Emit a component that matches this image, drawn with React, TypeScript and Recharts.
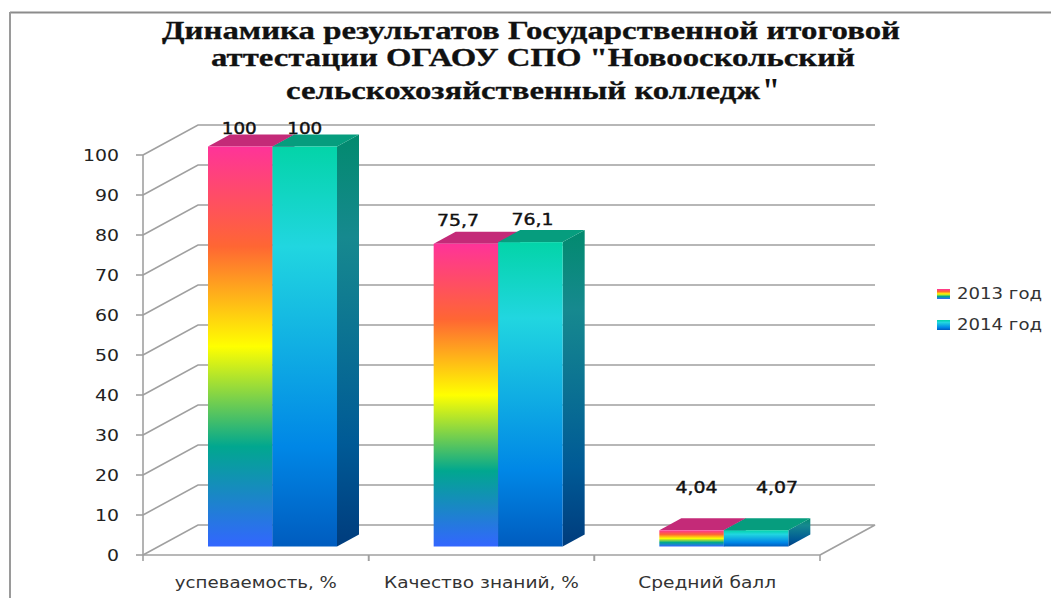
import React from "react";
import { BarChart, Bar, XAxis, YAxis, CartesianGrid, Legend, LabelList } from "recharts";

const categories = ["успеваемость, %", "Качество знаний, %", "Средний балл"];
const values2013 = [100, 75.7, 4.04];
const values2014 = [100, 76.1, 4.07];
const yTicks = [0, 10, 20, 30, 40, 50, 60, 70, 80, 90, 100];
const seriesNames = ["2013 год", "2014 год"];
const titleLines = [
  "Динамика результатов Государственной итоговой",
  "аттестации ОГАОУ СПО \"Новооскольский",
  "сельскохозяйственный колледж",
];

const chartData = categories.map((name, i) => ({ name, y2013: values2013[i], y2014: values2014[i] }));

const GRID = "#a0a0a0";
const WALL_DX = 55;
const WALL_DY = -30;
const BAR_DX = 17;
const BAR_DY = -8.5;
const DEPTH_DX = 22;
const DEPTH_DY = -12;
const SANS = "'DejaVu Sans', sans-serif";

const nudge2013 = [[-1, -18], [-8, -23], [5, -43]];
const nudge2014 = [[0, -18], [2, -23], [21, -43]];

const gridLine = (props: any) => {
  const { x1, x2, y1, index } = props;
  const isFloor = Math.abs(y1 - 555) < 1;
  const bx1 = x1 + WALL_DX;
  const bx2 = x2 + WALL_DX;
  const by = y1 + WALL_DY;
  return (
    <g key={`wall-${index}`}>
      <polyline
        points={`${x1},${y1} ${bx1},${by} ${bx2},${by}${isFloor ? ` ${x2},${y1}` : ""}`}
        fill="none"
        stroke={GRID}
        strokeWidth={1.6}
      />
    </g>
  );
};

const YTick = ({ x, y, payload }: any) => {
  const s = String(payload.value);
  return (
    <text x={x - 15 - s.length * 12} y={y + 6} textLength={s.length * 12} lengthAdjust="spacingAndGlyphs"
      fontFamily={SANS} fontSize={15} fill="#222">
      {s}
    </text>
  );
};

const labelWidths = [162, 195, 138];

const XTick = ({ x, payload, width, visibleTicksCount, index }: any) => {
  const band = width / visibleTicksCount;
  const w = labelWidths[index];
  const top = 555;
  return (
    <g>
      <line x1={x - band / 2} x2={x - band / 2} y1={top} y2={top + 6} stroke={GRID} strokeWidth={1.6} />
      <line x1={x + band / 2} x2={x + band / 2} y1={top} y2={top + 6} stroke={GRID} strokeWidth={1.6} />
      <text x={x - w / 2} y={588} textLength={w} lengthAdjust="spacingAndGlyphs"
        fontFamily={SANS} fontSize={15} fill="#333">
        {payload.value}
      </text>
    </g>
  );
};

const Bar3D = (topFill: string, frontId: string, sideId: string) => (props: any) => {
  const { x, y, width, height } = props;
  const fx = x + BAR_DX;
  const fy = y + BAR_DY;
  return (
    <g>
      <polygon
        points={`${fx + width},${fy} ${fx + width + DEPTH_DX},${fy + DEPTH_DY} ${fx + width + DEPTH_DX},${fy + height + DEPTH_DY} ${fx + width},${fy + height}`}
        fill={`url(#${sideId})`}
      />
      <polygon
        points={`${fx},${fy} ${fx + width},${fy} ${fx + width + DEPTH_DX},${fy + DEPTH_DY} ${fx + DEPTH_DX},${fy + DEPTH_DY}`}
        fill={topFill}
      />
      <rect x={fx} y={fy} width={width} height={height} fill={`url(#${frontId})`} />
    </g>
  );
};

const dataLabel = (nudges: number[][]) => (props: any) => {
  const { x, y, width, value, index } = props;
  const s = String(value).replace(".", ",");
  const w = s.length === 3 ? 35 : 42;
  const cx = x + BAR_DX + width / 2 + nudges[index][0];
  const cy = y + BAR_DY + nudges[index][1];
  return (
    <text x={cx - w / 2} y={cy + 5.5} textLength={w} lengthAdjust="spacingAndGlyphs"
      fontFamily={SANS} fontSize={15} fill="#111" stroke="#111" strokeWidth={0.4}>
      {s}
    </text>
  );
};

const LegendBox = () => (
  <svg width={116} height={50} style={{ display: "block" }}>
    {seriesNames.map((n, i) => (
      <g key={n}>
        <rect x={2} y={i === 0 ? 4 : 35} width={13} height={10} fill={`url(#${i === 0 ? "front2013" : "front2014"})`} />
        <text x={22} y={i === 0 ? 14 : 45} textLength={85} lengthAdjust="spacingAndGlyphs"
          fontFamily={SANS} fontSize={15} fill="#333">
          {n}
        </text>
      </g>
    ))}
  </svg>
);

export default function App() {
  return (
    <div style={{ position: "absolute", left: 0, top: 0, width: 1051, height: 598, overflow: "hidden", background: "#fff" }}>
      <BarChart
        width={1051}
        height={598}
        data={chartData}
        margin={{ top: 155, right: 231, bottom: 0, left: 0 }}
        barSize={64.5}
        barGap={0}
      >
        <defs>
          <linearGradient id="front2013" x1="0" y1="0" x2="0" y2="1">
            <stop offset="0%" stopColor="#ff3399" />
            <stop offset="25%" stopColor="#ff6633" />
            <stop offset="50%" stopColor="#ffff00" />
            <stop offset="75%" stopColor="#01a78f" />
            <stop offset="100%" stopColor="#3366ff" />
          </linearGradient>
          <linearGradient id="front2014" x1="0" y1="0" x2="0" y2="1">
            <stop offset="0%" stopColor="#03d4a8" />
            <stop offset="25%" stopColor="#21d6e0" />
            <stop offset="75%" stopColor="#0087e6" />
            <stop offset="100%" stopColor="#005cbf" />
          </linearGradient>
          <linearGradient id="side2013" x1="0" y1="0" x2="0" y2="1">
            <stop offset="0%" stopColor="#b8246f" />
            <stop offset="100%" stopColor="#2448b0" />
          </linearGradient>
          <linearGradient id="side2014" x1="0" y1="0" x2="0" y2="1">
            <stop offset="0%" stopColor="#028a6e" />
            <stop offset="25%" stopColor="#16898f" />
            <stop offset="75%" stopColor="#005a96" />
            <stop offset="100%" stopColor="#003c7d" />
          </linearGradient>
        </defs>

        <line x1={10} x2={1051} y1={12.5} y2={12.5} stroke="#8c8c8c" strokeWidth={2} />
        <line x1={10} x2={10} y1={12} y2={598} stroke="#9a9a9a" strokeWidth={2} />

        {titleLines.map((t, i) => (
          <text
            key={t}
            x={[162, 211, 286][i]}
            y={[39, 66, 99][i]}
            textLength={[738, 644, 474][i]}
            lengthAdjust="spacingAndGlyphs"
            fontFamily="'Liberation Serif', serif"
            fontWeight="bold"
            fontSize={25}
            fill="#111"
            stroke="#111"
            strokeWidth={0.3}
          >
            {t}
          </text>
        ))}
        <text x={762} y={103} textLength={18} lengthAdjust="spacingAndGlyphs" fontFamily="'Liberation Serif', serif" fontWeight="bold" fontSize={36} fill="#111">"</text>

        <CartesianGrid vertical={false} horizontal={gridLine} />
        <XAxis
          dataKey="name"
          height={43}
          interval={0}
          tickLine={false}
          axisLine={{ stroke: GRID, strokeWidth: 1.6 }}
          tick={<XTick />}
        />
        <YAxis
          width={143}
          domain={[0, 100]}
          ticks={yTicks}
          interval={0}
          tickSize={7}
          tickLine={{ stroke: GRID, strokeWidth: 1.6 }}
          axisLine={{ stroke: GRID, strokeWidth: 1.6 }}
          tick={<YTick />}
        />
        <Bar dataKey="y2013" name={seriesNames[0]} isAnimationActive={false} shape={Bar3D("#c42a78", "front2013", "side2013")}>
          <LabelList dataKey="y2013" content={dataLabel(nudge2013)} />
        </Bar>
        <Bar dataKey="y2014" name={seriesNames[1]} isAnimationActive={false} shape={Bar3D("#069d7e", "front2014", "side2014")}>
          <LabelList dataKey="y2014" content={dataLabel(nudge2014)} />
        </Bar>
        <Legend layout="vertical" align="center" verticalAlign="middle" width={116} wrapperStyle={{ left: 935, top: 285 }} content={<LegendBox />} />
      </BarChart>
    </div>
  );
}
